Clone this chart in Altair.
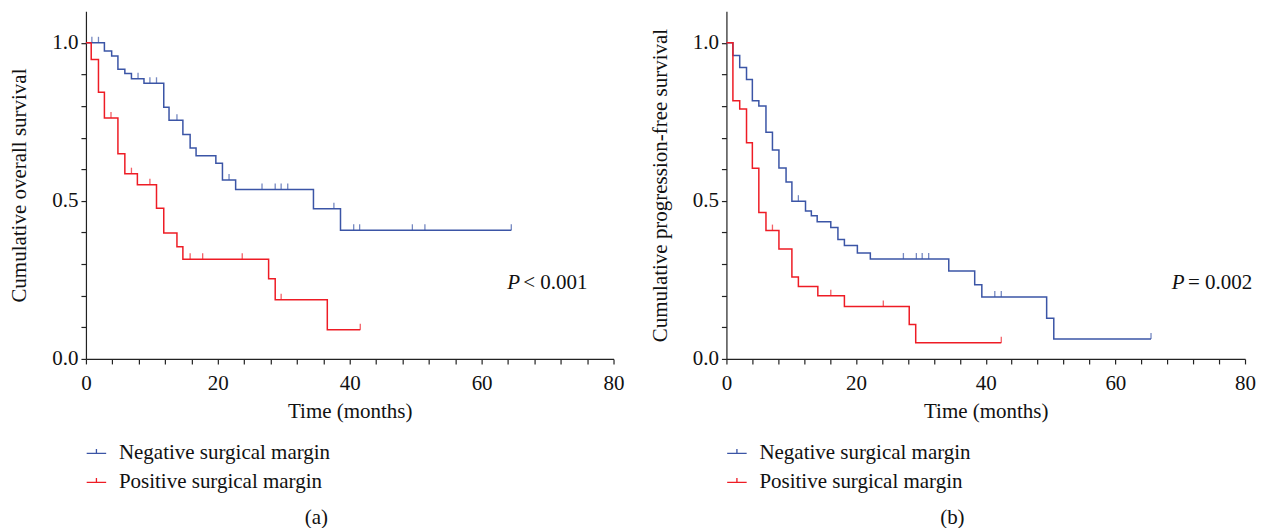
import altair as alt
import pandas as pd

GROUPS = ["Negative surgical margin", "Positive surgical margin"]
COLORS = ["#3b55a6", "#ee1c25"]
FONT = "Liberation Serif"

# ---- panel (a): overall survival ----
os_neg_t = [0, 2.8, 3.9, 4.85, 5.9, 6.9, 8.8, 11.8, 12.6, 14.7, 15.8, 16.7, 19.7, 20.7, 22.7, 34.5, 38.6, 64.5]
os_neg_s = [1.0, 0.974, 0.958, 0.916, 0.903, 0.886, 0.872, 0.796, 0.755, 0.71, 0.667, 0.643, 0.619, 0.566, 0.536, 0.475, 0.407, 0.407]
os_neg_c = [0.9, 1.9, 7.9, 9.7, 10.7, 13.8, 21.7, 26.7, 28.7, 29.6, 30.6, 37.6, 40.6, 41.5, 49.5, 51.4, 64.5]

os_pos_t = [0, 0.8, 1.9, 2.8, 4.85, 5.9, 7.8, 10.7, 11.8, 13.8, 14.7, 27.7, 28.7, 36.6, 41.6]
os_pos_s = [1.0, 0.947, 0.844, 0.762, 0.649, 0.586, 0.551, 0.477, 0.398, 0.355, 0.315, 0.254, 0.187, 0.092, 0.092]
os_pos_c = [3.8, 6.9, 9.7, 15.8, 17.7, 23.7, 29.6, 41.6]

# ---- panel (b): progression-free survival ----
pfs_neg_t = [0, 1.0, 2.05, 3.1, 4.0, 5.0, 6.1, 7.1, 8.1, 9.2, 10.1, 12.2, 13.1, 14.0, 16.1, 17.2, 18.2, 20.2, 22.2, 34.3, 38.3, 39.4, 49.4, 50.5, 65.5]
pfs_neg_s = [1.0, 0.96, 0.922, 0.884, 0.817, 0.80, 0.717, 0.661, 0.604, 0.56, 0.499, 0.468, 0.453, 0.434, 0.416, 0.378, 0.359, 0.335, 0.316, 0.278, 0.235, 0.196, 0.129, 0.063, 0.063]
pfs_neg_c = [11.1, 27.3, 29.3, 30.2, 31.2, 41.4, 42.4, 65.5]

pfs_pos_t = [0, 1.0, 2.05, 3.1, 4.0, 5.0, 6.1, 8.1, 10.1, 11.1, 14.1, 18.2, 28.2, 29.2, 42.4]
pfs_pos_s = [1.0, 0.817, 0.791, 0.684, 0.603, 0.463, 0.406, 0.348, 0.259, 0.229, 0.20, 0.166, 0.109, 0.051, 0.051]
pfs_pos_c = [7.1, 16.1, 24.2, 42.4]

x_ticks = [0, 4, 8, 12, 16, 20, 24, 28, 32, 36, 40, 44, 48, 52, 56, 60, 64, 68, 72, 76, 80]
y_ticks = [0.0, 0.1, 0.2, 0.3, 0.4, 0.5, 0.6, 0.7, 0.8, 0.9, 1.0]

p_a = ["P", "< 0.001"]
p_a_x = [63.9, 66.3]
p_b = ["P", "= 0.002"]
p_b_x = [68.7, 71.2]
p_y = 0.24

FS = 21


def step_at(ts, ss, c):
    val = ss[0]
    for t, s in zip(ts, ss):
        if t <= c:
            val = s
    return val


def build(neg, pos):
    lines, cens = [], []
    for g, (ts, ss, cs) in zip(GROUPS, [neg, pos]):
        for t, s in zip(ts, ss):
            lines.append({"t": t, "s": s, "g": g})
        for c in cs:
            cens.append({"t": c, "s": step_at(ts, ss, c), "g": g})
    return pd.DataFrame(lines), pd.DataFrame(cens)


def panel(neg, pos, ytitle, ptexts, pxs, label, width):
    ldf, cdf = build(neg, pos)
    cscale = alt.Scale(domain=GROUPS, range=COLORS)
    color = alt.Color(
        "g:N", scale=cscale,
        legend=alt.Legend(
            title=None, orient="none", legendX=0, legendY=432,
            symbolType="M-1,0H1M0,0V-0.45", symbolSize=380, symbolStrokeWidth=1.3,
            labelFont=FONT, labelFontSize=FS, labelColor="#111", labelOffset=12,
            labelLimit=600, rowPadding=7, padding=0,
        ),
    )
    x = alt.X("t:Q", scale=alt.Scale(domain=[0, 80], nice=False),
              axis=alt.Axis(values=x_ticks, title="Time (months)",
                            labelExpr="datum.value % 20 == 0 ? datum.label : ''",
                            labelOverlap=False, labelFlush=False, labelPadding=9, titlePadding=7))
    y = alt.Y("s:Q", scale=alt.Scale(domain=[0, 1.1], nice=False),
              axis=alt.Axis(values=y_ticks, format=".1f", title=ytitle,
                            labelExpr="abs(datum.value*2 - round(datum.value*2)) < 0.001 ? datum.label : ''",
                            labelOverlap=False, labelFlush=False, labelPadding=3, titlePadding=22))
    line = alt.Chart(ldf).mark_line(interpolate="step-after", strokeWidth=1.5).encode(
        x=x, y=y, color=color, detail="g:N")
    ticks = alt.Chart(cdf).mark_tick(orient="vertical", size=6, thickness=1.3, yOffset=-3).encode(
        x=x, y=y, color=alt.Color("g:N", scale=cscale, legend=None))
    tdf = pd.DataFrame({"t": pxs, "s": [p_y, p_y], "txt": ptexts})
    t1 = alt.Chart(tdf.iloc[:1]).mark_text(align="left", baseline="middle", font=FONT,
                                             fontSize=FS, fontStyle="italic", color="#111").encode(
        x=x, y=y, text="txt:N")
    t2 = alt.Chart(tdf.iloc[1:]).mark_text(align="left", baseline="middle", font=FONT,
                                             fontSize=FS, color="#111").encode(
        x=x, y=y, text="txt:N")
    return alt.layer(line, ticks, t1, t2).properties(
        width=width, height=348,
        title=alt.TitleParams(label, orient="bottom", frame="bounds", anchor="middle",
                              font=FONT, fontSize=FS, fontWeight="normal", color="#111", offset=14),
    )


a = panel((os_neg_t, os_neg_s, os_neg_c), (os_pos_t, os_pos_s, os_pos_c),
          "Cumulative overall survival", p_a, p_a_x, "(a)", 528)
b = panel((pfs_neg_t, pfs_neg_s, pfs_neg_c), (pfs_pos_t, pfs_pos_s, pfs_pos_c),
          "Cumulative progression-free survival", p_b, p_b_x, "(b)", 519)

chart = alt.hconcat(a, b, spacing=24).resolve_scale(color="independent").resolve_legend(
    color="independent").properties(
    padding={"left": 0, "top": 3, "right": 5, "bottom": 0}
).configure_view(stroke=None).configure_axis(
    labelFont=FONT, labelFontSize=FS, labelColor="#111",
    titleFont=FONT, titleFontSize=FS, titleFontWeight="normal", titleColor="#111",
    domainColor="#222", tickColor="#222", domainWidth=1.2, tickWidth=1.2, tickSize=5,
    grid=False, labelOverlap=False, labelFlush=False,
)

chart.save("out.html", embed_options={"renderer": "svg", "actions": False})
